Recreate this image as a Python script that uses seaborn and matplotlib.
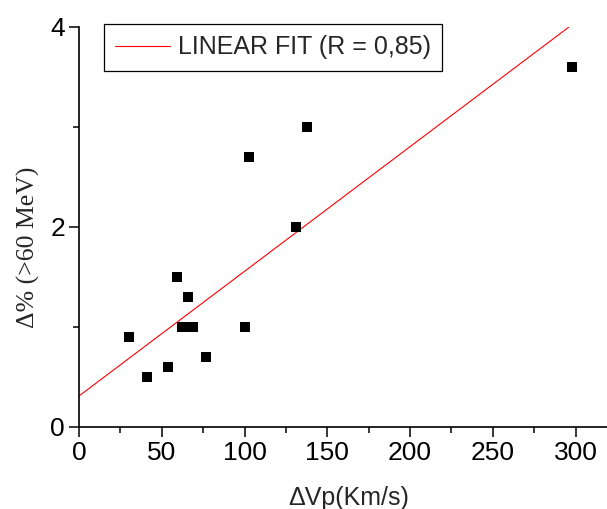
import matplotlib
matplotlib.use("Agg")
import matplotlib.pyplot as plt
from matplotlib.ticker import MultipleLocator
import seaborn as sns
import pandas as pd

# Data
dvp = [30, 41, 54, 59, 62, 65, 66, 69, 77, 100, 103, 131, 138, 298]
dpct = [0.9, 0.5, 0.6, 1.5, 1.0, 1.0, 1.3, 1.0, 0.7, 1.0, 2.7, 2.0, 3.0, 3.6]
fit_x = [0, 296]
fit_y = [0.31, 4.0]
legend_label = "LINEAR FIT (R = 0,85)"
x_label = "\u0394Vp(Km/s)"
y_label = "\u0394% (>60 MeV)"
x_ticks = [0, 50, 100, 150, 200, 250, 300]
y_ticks = [0, 2, 4]

sns.set_style("ticks")
plt.rcParams["font.family"] = ["Liberation Sans", "DejaVu Sans"]

fig = plt.figure(figsize=(6.07, 5.09), dpi=100)
ax = fig.add_axes([79 / 607, 82 / 509, 528 / 607, 400 / 509])

pts = pd.DataFrame({"x": dvp, "y": dpct})
fit = pd.DataFrame({"x": fit_x, "y": fit_y})

sns.lineplot(data=fit, x="x", y="y", ax=ax, color="red", linewidth=0.8,
             label=legend_label)
sns.scatterplot(data=pts, x="x", y="y", ax=ax, marker="s", s=52,
                color="black", linewidth=0, legend=False, zorder=3)

ax.set_xlim(0, 319)
ax.set_ylim(0, 4)
ax.set_xticks(x_ticks)
ax.set_yticks(y_ticks)
ax.xaxis.set_minor_locator(MultipleLocator(25))
ax.yaxis.set_minor_locator(MultipleLocator(1))
ax.tick_params(which="major", direction="out", length=7, width=1.1,
               labelsize=19, pad=3, color="black", labelcolor="black")
ax.tick_params(which="minor", direction="out", length=4, width=1.1,
               color="black")
sns.despine(ax=ax)
for sp in ("left", "bottom"):
    ax.spines[sp].set_linewidth(1.2)
    ax.spines[sp].set_color("black")

ax.set_xlabel(x_label, fontsize=18, family=["Liberation Sans", "DejaVu Sans"],
              va="top")
ax.xaxis.set_label_coords(0.51, -0.148)
ax.set_ylabel(y_label, fontsize=18.5, family=["Liberation Serif", "DejaVu Serif"],
              va="center", ha="center")
ax.yaxis.set_label_coords(-0.096, 0.45)

leg = ax.legend(loc="upper left", bbox_to_anchor=(0.047, 1.0075),
                borderaxespad=0, fontsize=18, frameon=True, fancybox=False,
                borderpad=0.45, handlelength=2.2, handletextpad=0.3)
leg.get_frame().set_edgecolor("black")
leg.get_frame().set_linewidth(0.9)
leg.get_frame().set_alpha(1)

fig.savefig("out.png", dpi=100)
